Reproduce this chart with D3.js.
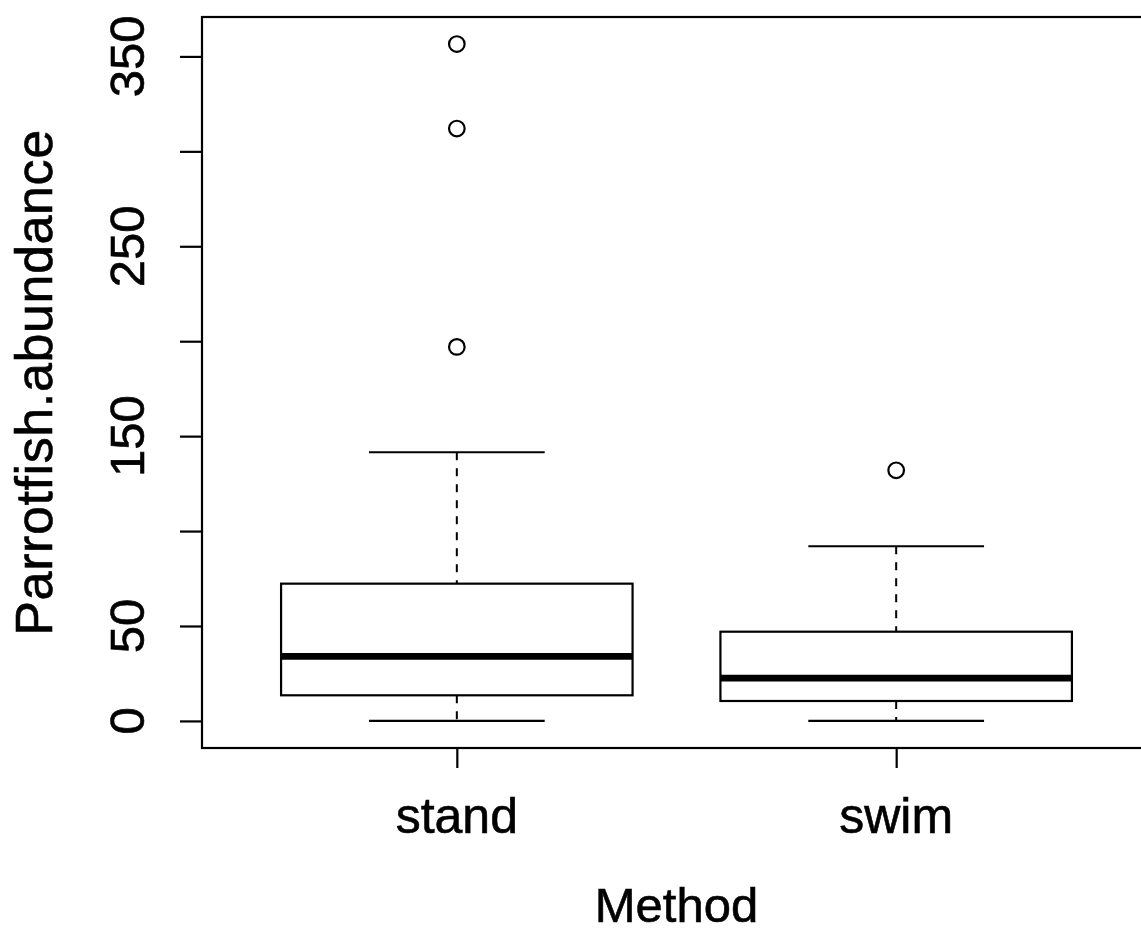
<!DOCTYPE html>
<html>
<head>
<meta charset="utf-8">
<script src="https://cdn.jsdelivr.net/npm/d3@7"></script>
<style>
  html, body { margin: 0; padding: 0; background: #fff; }
  svg { display: block; }
  text { stroke: #000; stroke-width: 0.6px; fill: #000; }
</style>
</head>
<body>
<div id="chart"></div>
<script>
// Boxplot summary
const methods   = ["stand", "swim"];
const lowerWhisker = [0, 0];
const q1        = [13.5, 10.5];
const medians   = [34, 22.5];
const q3        = [72.3, 47];
const upperWhisker = [141.5, 92];
const outliers  = [[356.5, 312, 197], [132]];
const yTicks    = [0, 50, 100, 150, 200, 250, 300, 350];
const yTickLabels = ["0", "50", "", "150", "", "250", "", "350"];

const W = 1141, H = 934;
const plot = { left: 202, right: 1151, top: 17, bottom: 748 };
const FONT = "'Liberation Sans', Arial, sans-serif";
const FS = 49;

const svg = d3.select("#chart").append("svg")
  .attr("width", W).attr("height", H);

// R-style limits: 4% extension of data range
const allVals = lowerWhisker.concat(upperWhisker, outliers.flat());
const dMin = d3.min(allVals), dMax = d3.max(allVals);
const pad = (dMax - dMin) * 0.04;
const y = d3.scaleLinear().domain([dMin - pad, dMax + pad]).range([plot.bottom, plot.top]);

const n = methods.length;
const xPad = n * 0.04;
const x = d3.scaleLinear().domain([0.5 - xPad, n + 0.5 + xPad]).range([plot.left, plot.right]);

const boxHalf = x(1.4) - x(1);         // boxwex 0.8
const capHalf = boxHalf / 2;           // staplewex 0.5

const data = methods.map((m, i) => ({
  name: m, pos: i + 1,
  lo: lowerWhisker[i], q1: q1[i], med: medians[i], q3: q3[i], hi: upperWhisker[i],
  out: outliers[i]
}));

const groups = svg.append("g").selectAll(".box").data(data).join("g").attr("class", "box");

// dashed whiskers
groups.append("line")
  .attr("x1", d => x(d.pos)).attr("x2", d => x(d.pos))
  .attr("y1", d => y(d.hi)).attr("y2", d => y(d.q3))
  .attr("stroke", "#000").attr("stroke-width", 2).attr("stroke-dasharray", "8,8");
groups.append("line")
  .attr("x1", d => x(d.pos)).attr("x2", d => x(d.pos))
  .attr("y1", d => y(d.q1)).attr("y2", d => y(d.lo))
  .attr("stroke", "#000").attr("stroke-width", 2).attr("stroke-dasharray", "8,8");

// staples
groups.append("line")
  .attr("x1", d => x(d.pos) - capHalf).attr("x2", d => x(d.pos) + capHalf)
  .attr("y1", d => y(d.hi)).attr("y2", d => y(d.hi))
  .attr("stroke", "#000").attr("stroke-width", 2.2);
groups.append("line")
  .attr("x1", d => x(d.pos) - capHalf).attr("x2", d => x(d.pos) + capHalf)
  .attr("y1", d => y(d.lo)).attr("y2", d => y(d.lo))
  .attr("stroke", "#000").attr("stroke-width", 2.2);

// box
groups.append("rect")
  .attr("x", d => x(d.pos) - boxHalf)
  .attr("y", d => y(d.q3))
  .attr("width", boxHalf * 2)
  .attr("height", d => y(d.q1) - y(d.q3))
  .attr("fill", "#fff").attr("stroke", "#000").attr("stroke-width", 2.2);

// median
groups.append("line")
  .attr("x1", d => x(d.pos) - boxHalf).attr("x2", d => x(d.pos) + boxHalf)
  .attr("y1", d => y(d.med)).attr("y2", d => y(d.med))
  .attr("stroke", "#000").attr("stroke-width", 6.8);

// outliers
groups.selectAll("circle")
  .data(d => d.out.map(v => ({ pos: d.pos, v })))
  .join("circle")
  .attr("cx", d => x(d.pos)).attr("cy", d => y(d.v))
  .attr("r", 7.8)
  .attr("fill", "none").attr("stroke", "#000").attr("stroke-width", 2.2);

// frame
svg.append("rect")
  .attr("x", plot.left).attr("y", plot.top)
  .attr("width", plot.right - plot.left).attr("height", plot.bottom - plot.top)
  .attr("fill", "none").attr("stroke", "#000").attr("stroke-width", 2.2);

// y axis
const yAxis = d3.axisLeft(y).tickValues(yTicks).tickSize(22).tickFormat("");
svg.append("g").attr("transform", `translate(${plot.left},0)`).call(yAxis)
  .call(s => s.select(".domain").remove())
  .selectAll(".tick line").attr("stroke", "#000").attr("stroke-width", 2.2);

svg.append("g").selectAll("text")
  .data(yTicks.map((t, i) => ({ t, label: yTickLabels[i] })).filter(d => d.label))
  .join("text")
  .attr("transform", d => `translate(144,${y(d.t)}) rotate(-90)`)
  .attr("text-anchor", "middle")
  .attr("font-family", FONT).attr("font-size", FS)
  .text(d => d.label);

// x axis
const xAxis = d3.axisBottom(x).tickValues(data.map(d => d.pos)).tickSize(20).tickFormat("");
svg.append("g").attr("transform", `translate(0,${plot.bottom})`).call(xAxis)
  .call(s => s.select(".domain").remove())
  .selectAll(".tick line").attr("stroke", "#000").attr("stroke-width", 2.2);

svg.append("g").selectAll("text")
  .data(data)
  .join("text")
  .attr("x", d => x(d.pos)).attr("y", 833)
  .attr("text-anchor", "middle")
  .attr("font-family", FONT).attr("font-size", FS + 1)
  .text(d => d.name);

// axis titles
svg.append("text")
  .attr("x", (plot.left + plot.right) / 2).attr("y", 922)
  .attr("text-anchor", "middle")
  .attr("font-family", FONT).attr("font-size", FS)
  .text("Method");

svg.append("text")
  .attr("transform", `translate(52,${(plot.top + plot.bottom) / 2}) rotate(-90)`)
  .attr("text-anchor", "middle")
  .attr("font-family", FONT).attr("font-size", 52)
  .attr("letter-spacing", 0.6)
  .text("Parrotfish.abundance");
</script>
</body>
</html>
